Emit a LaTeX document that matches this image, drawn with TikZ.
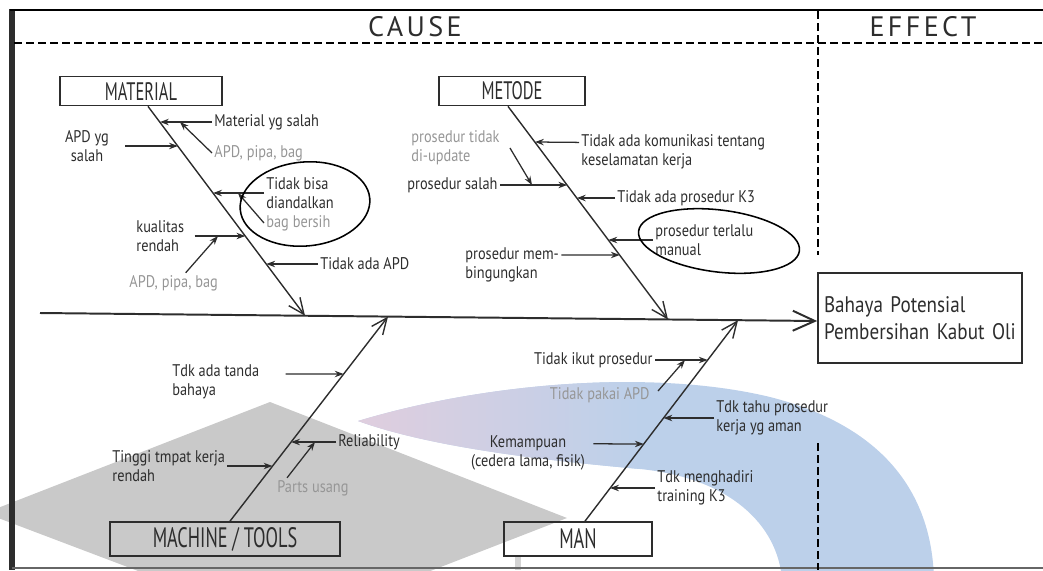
\documentclass[tikz,border=0pt]{standalone}
\usepackage{fontspec}
\setmainfont{PT Sans}
\newfontfamily\narrowfont{PT Sans}[FakeStretch=0.85]
\newfontfamily\condfont{PT Sans}[FakeStretch=0.65]
\newfontfamily\headfont{PT Sans}[LetterSpace=12]
\usetikzlibrary{arrows.meta}

\definecolor{wmgray}{RGB}{201,201,201}
\definecolor{wmpink}{RGB}{224,206,222}
\definecolor{wmblue}{RGB}{188,208,234}
\definecolor{inkdark}{RGB}{45,45,45}
\definecolor{inklight}{RGB}{150,150,150}

% outline of the arc in the watermark
\newcommand{\bandpath}{(358,421) .. controls (480,384) and (650,368) .. (770,397)
  .. controls (880,425) and (932,490) .. (934,580)
  -- (782,580) .. controls (778,525) and (730,478) .. (640,469)
  .. controls (540,460) and (430,447) .. (358,421) -- cycle}

\begin{document}
\begin{tikzpicture}[x=0.25mm, y=-0.25mm,
  catbox/.style={draw=inkdark, line width=1.2pt, minimum height=7.25mm,
    font=\condfont\fontsize{18}{20}\selectfont, text=inkdark},
  lbl/.style={font=\narrowfont\fontsize{12}{13.5}\selectfont, text=inkdark,
    align=left, inner sep=1.5pt},
  lblgray/.style={lbl, text=inklight},
  bone/.style={draw=inkdark, line width=1pt, -{Straight Barb[length=4mm,width=3.5mm]}},
  sub/.style={draw=inkdark, line width=0.9pt, -{Stealth[length=2.2mm,width=1.6mm]}},
  ring/.style={draw=black, line width=1.1pt},
  divider/.style={draw=black, line width=0.5mm, dash pattern=on 2mm off 1mm}]

  \useasboundingbox (0,0) rectangle (1043,570);

  % Watermark in the background
  \begin{scope}
    \clip (0,0) rectangle (1043,570);
    \fill[wmgray] (270,402) -- (567,518) -- (286,627) -- (-15,513) -- cycle;
    \fill[wmgray!80] (515,557) rectangle (521,570);
    \fill[wmblue] \bandpath;
    \begin{scope}
      \clip \bandpath;
      \shade[left color=wmpink, right color=wmblue] (355,360) rectangle (640,490);
    \end{scope}
  \end{scope}

  % Frame and headings
  \draw[line width=1.3mm, draw=inkdark] (12,9) -- (12,570);
  \draw[line width=0.6mm] (10,10) -- (1043,10);
  \draw[line width=0.3mm, draw=black!60] (12,568) -- (1043,568);
  \draw[divider] (14,43) -- (1043,43);
  \draw[divider] (818,11) -- (818,255);
  \draw[divider] (818,443) -- (818,570);
  \node[font=\headfont\fontsize{20}{22}\selectfont, text=inkdark] (cause) at (415,27) {CAUSE};
  \node[font=\headfont\fontsize{20}{22}\selectfont, text=inkdark] (effecthead) at (923,27) {EFFECT};

  % Effect box and spine
  \node[draw=inkdark, line width=1.2pt, minimum width=51mm, minimum height=22.5mm,
    text width=48mm, align=left, inner xsep=1mm,
    font=\narrowfont\fontsize{16}{19}\selectfont, text=inkdark] (effect) at (920,318)
    {Bahaya Potensial\\Pembersihan Kabut Oli};
  \coordinate (tail) at (40,313);
  \draw[draw=inkdark, line width=1.4pt, -{Straight Barb[length=5.5mm,width=5mm]}]
    (tail) -- ([yshift=-0.75mm]effect.west);

  % Category boxes
  \node[catbox, minimum width=40.5mm] (material) at (141,91) {MATERIAL};
  \node[catbox, minimum width=36.5mm] (metode) at (512,91) {METODE};
  \node[catbox, minimum width=57.5mm, minimum height=8.5mm,
    font=\condfont\fontsize{20}{22}\selectfont] (machine) at (225,539) {MACHINE / TOOLS};
  \node[catbox, minimum width=37mm, minimum height=8.5mm,
    font=\condfont\fontsize{20}{22}\selectfont] (man) at (578,539) {MAN};

  % Bones
  \coordinate (mattip) at (305,315.7);
  \coordinate (mettip) at (668,319.5);
  \coordinate (mactip) at (388,316.6);
  \coordinate (mantip) at (738,320.2);
  \draw[bone] ([xshift=1.75mm]material.south) -- (mattip);
  \draw[bone] ([xshift=-1mm]metode.south) -- (mettip);
  \draw[bone] ([xshift=1.25mm]machine.north) -- (mactip);
  \draw[bone] ([xshift=1.75mm]man.north) -- (mantip);

  % Material causes
  \node[lbl, anchor=west] (mat1) at (212,122) {Material yg salah};
  \node[lblgray, anchor=west] (mat2) at (212,153) {APD, pipa, bag};
  \node[lbl, align=center] (mat3) at (87,146) {APD yg\\salah};
  \node[lbl, anchor=west] (mat4) at (264,193) {Tidak bisa\\diandalkan};
  \node[lblgray, anchor=west] (mat5) at (264,223) {bag bersih};
  \node[lbl, anchor=west] (mat6) at (134,236) {kualitas\\rendah};
  \node[lblgray, anchor=west] (mat7) at (127,283) {APD, pipa, bag};
  \node[lbl, anchor=west] (mat8) at (318,264) {Tidak ada APD};
  \coordinate (m1) at (160,122);
  \coordinate (m1b) at (180,122);
  \coordinate (m3) at (177.9,146);
  \coordinate (m4) at (213.1,193);
  \coordinate (m4b) at (238,193);
  \coordinate (m6) at (245.3,236);
  \coordinate (m6b) at (218,236);
  \coordinate (m8) at (266.3,264);
  \draw[sub] (mat1.west) -- (m1);
  \draw[sub] (mat2.west) -- (m1b);
  \draw[sub] ([xshift=3.5mm]mat3.east) -- (m3);
  \draw[sub] (mat4.west) -- (m4);
  \draw[sub] (mat5.west) -- (m4b);
  \draw[sub] ([xshift=2mm]mat6.east) -- (m6);
  \draw[sub] ([xshift=3mm]mat7.north) -- (m6b);
  \draw[sub] (mat8.west) -- (m8);
  \draw[ring, rotate around={5:(305,204)}] (305,204) ellipse [x radius=16.25mm, y radius=10.5mm];

  % Metode causes
  \node[lbl, anchor=west] (met1) at (579,152) {Tidak ada komunikasi tentang\\keselamatan kerja};
  \node[lblgray, anchor=west] (met2) at (409,148) {prosedur tidak\\di-update};
  \node[lbl, anchor=west] (met3) at (405,185) {prosedur salah};
  \node[lbl, anchor=west] (met4) at (615,198) {Tidak ada prosedur K3};
  \node[lbl, anchor=west] (met5) at (653,240) {prosedur terlalu\\manual};
  \node[lbl, anchor=west] (met6) at (463,265) {prosedur mem-\\bingungkan};
  \coordinate (t1) at (535,142);
  \coordinate (t2) at (567.2,185);
  \coordinate (t2b) at (532,185);
  \coordinate (t4) at (576.9,198);
  \coordinate (t5) at (608.4,240);
  \coordinate (t6) at (619.7,255);
  \draw[sub] ([yshift=2.4mm]met1.west) -- (t1);
  \draw[sub] ([xshift=2mm]met2.east) -- (t2b);
  \draw[sub] (met3.east) -- (t2);
  \draw[sub] (met4.west) -- (t4);
  \draw[sub] (met5.west) -- (t5);
  \draw[sub] ([yshift=2.5mm]met6.east) -- (t6);
  \draw[ring, rotate around={-7:(719,241)}] (719,241) ellipse [x radius=20.25mm, y radius=7.75mm];

  % Machine / tools causes
  \node[lbl, anchor=west] (mac1) at (170,382) {Tdk ada tanda\\bahaya};
  \node[lbl, anchor=west] (mac2) at (336,442) {Reliability};
  \node[lblgray, anchor=west] (mac3) at (275,488) {Parts usang};
  \node[lbl, anchor=west] (mac4) at (110,466) {Tinggi tmpat kerja\\rendah};
  \coordinate (c1) at (343.6,374);
  \coordinate (c2) at (291.1,442);
  \coordinate (c2b) at (315,442);
  \coordinate (c4) at (272.5,466);
  \draw[sub] ([xshift=6mm,yshift=2mm]mac1.east) -- (c1);
  \draw[sub] (mac2.west) -- (c2);
  \draw[sub] ([xshift=3mm]mac3.north west) -- (c2b);
  \draw[sub] (mac4.east) -- (c4);

  % Man causes
  \node[lbl, anchor=east] (man1) at (655,360) {Tidak ikut prosedur};
  \node[lblgray, anchor=east] (man2) at (652,395) {Tidak pakai APD};
  \node[lbl, anchor=west] (man3) at (714,418) {Tdk tahu prosedur\\kerja yg aman};
  \node[lbl, align=center] (man4) at (528,453) {Kemampuan\\(cedera lama, fisik)};
  \node[lbl, anchor=west] (man5) at (655,488) {Tdk menghadiri\\training K3};
  \coordinate (n1) at (707.7,360);
  \coordinate (n1b) at (685,360);
  \coordinate (n3) at (663.5,418);
  \coordinate (n4) at (643.7,444);
  \coordinate (n5) at (610.1,488);
  \draw[sub] (man1.east) -- (n1);
  \draw[sub] ([xshift=1.5mm,yshift=1mm]man2.east) -- (n1b);
  \draw[sub] (man3.west) -- (n3);
  \draw[sub] ([xshift=1.5mm,yshift=2.3mm]man4.east) -- (n4);
  \draw[sub] (man5.west) -- (n5);
\end{tikzpicture}
\end{document}
